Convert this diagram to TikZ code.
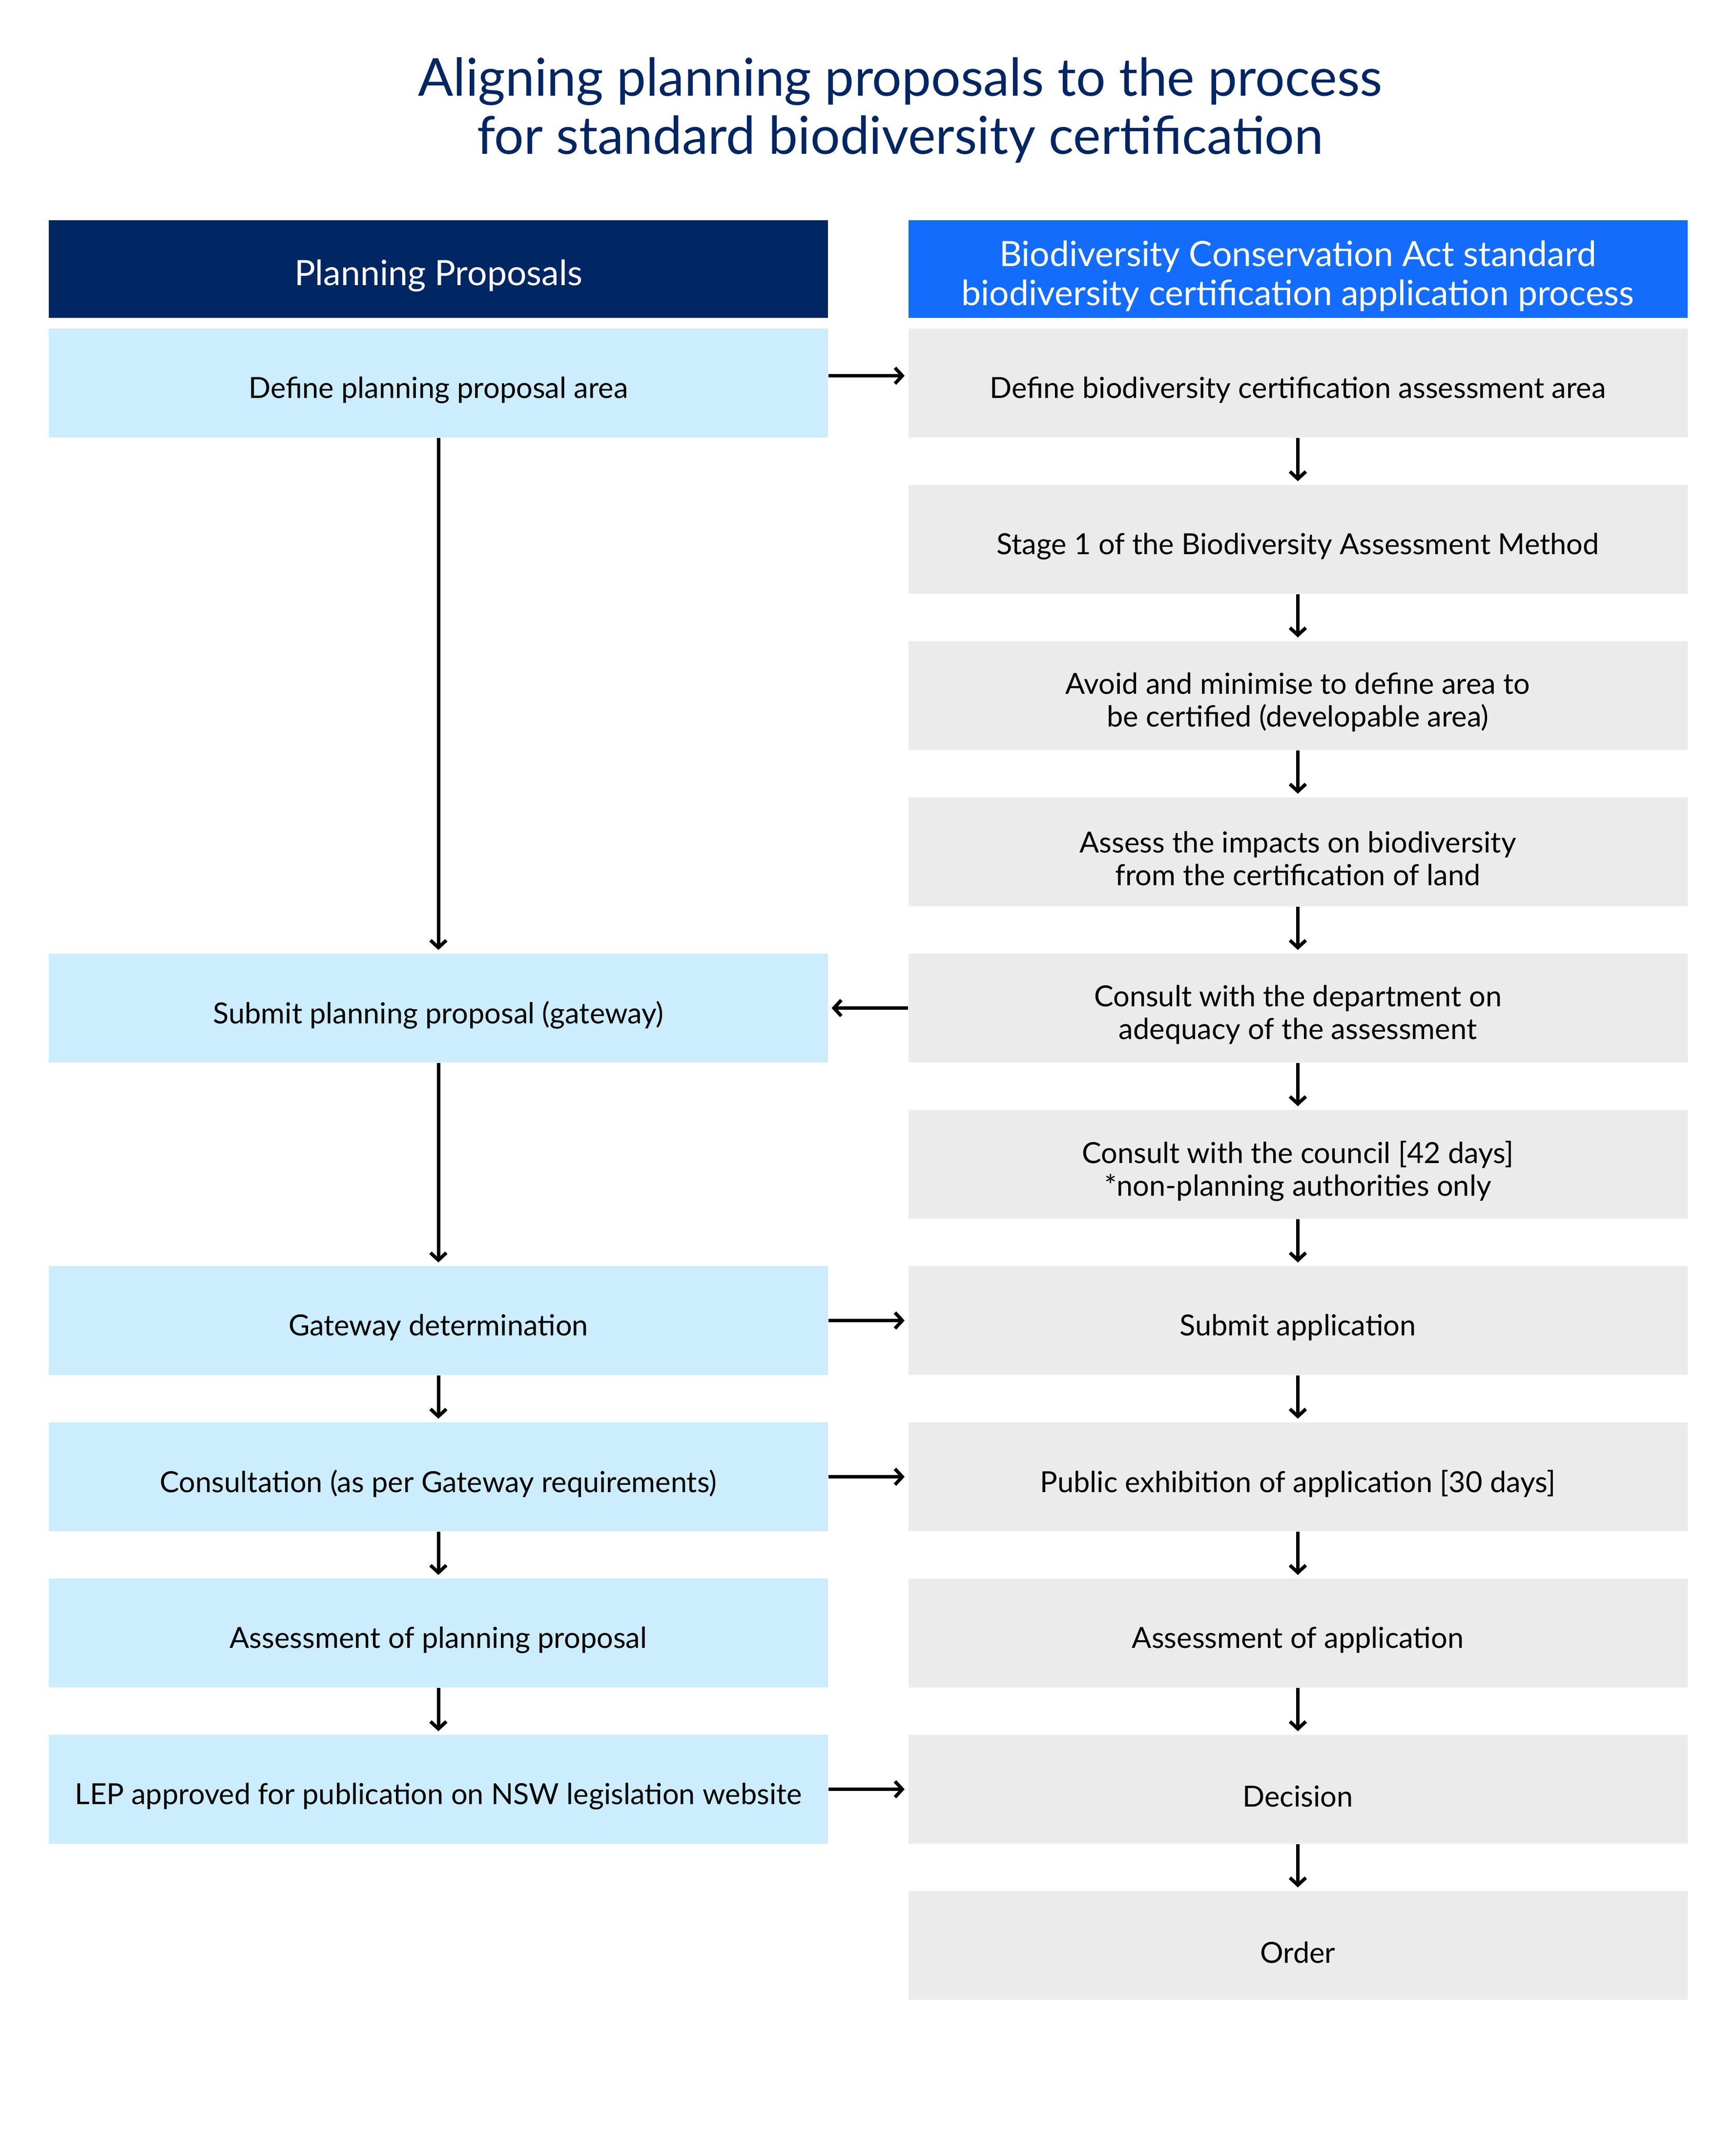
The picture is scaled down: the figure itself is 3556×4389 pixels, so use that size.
\documentclass[tikz,border=0pt]{standalone}
\usepackage{fontspec}
\setmainfont{Lato}
\usetikzlibrary{arrows.meta}
\definecolor{navy}{HTML}{002664}
\definecolor{nswblue}{HTML}{146CFD}
\definecolor{lblue}{HTML}{CBEDFD}
\definecolor{lgrey}{HTML}{EBEBEB}
\begin{document}
\begin{tikzpicture}[x=0.2pt,y=-0.2pt,
  box/.style={minimum width=319.2pt, minimum height=44.6pt, inner sep=0pt},
  lbox/.style={box, fill=lblue},
  rbox/.style={box, fill=lgrey},
  txt/.style={inner sep=0pt, align=center, font=\fontsize{11.9}{13.4}\selectfont, text=black},
  hdr/.style={minimum width=319.2pt, minimum height=40pt, inner sep=0pt},
  htxt/.style={inner sep=0pt, align=center, font=\fontsize{14.3}{16}\selectfont, text=white},
  ttl/.style={anchor=base, text=navy, font=\fontsize{21.4}{24}\selectfont},
  arr/.style={-{Straight Barb[length=3pt,width=6.5pt]}, line width=1.4pt, shorten >=1.3pt}]
\useasboundingbox (0,0) rectangle (3556,4389);
% title
\node[ttl] (t1) at (1844,196) {Aligning planning proposals to the process};
\node[ttl] (t2) at (1844,315) {for standard biodiversity certification};
% headers
\node[hdr, fill=navy] (hl) at (898,551) {};
\node[htxt] (hlt) at ([yshift=-2.8pt]hl.center) {Planning Proposals};
\node[hdr, fill=nswblue] (hr) at (2658.5,551) {};
\node[htxt] (hrt) at ([yshift=-2.8pt]hr.center) {Biodiversity Conservation Act standard\\biodiversity certification application process};
% left column
\node[lbox] (L1) at (898,784.5) {};
\node[lbox] (L5) at (898,2064.5) {};
\node[lbox] (L7) at (898,2704.5) {};
\node[lbox] (L8) at (898,3024.5) {};
\node[lbox] (L9) at (898,3344.5) {};
\node[lbox] (L10) at (898,3664.5) {};
\node[txt] (L1t) at ([yshift=-2.8pt]L1.center) {Define planning proposal area};
\node[txt] (L5t) at ([yshift=-2.8pt]L5.center) {Submit planning proposal (gateway)};
\node[txt] (L7t) at ([yshift=-2.8pt]L7.center) {Gateway determination};
\node[txt] (L8t) at ([yshift=-2.8pt]L8.center) {Consultation (as per Gateway requirements)};
\node[txt] (L9t) at ([yshift=-2.8pt]L9.center) {Assessment of planning proposal};
\node[txt] (L10t) at ([yshift=-2.8pt]L10.center) {LEP approved for publication on NSW legislation website};
% right column
\node[rbox] (R1) at (2658.5,784.5) {};
\node[rbox] (R2) at (2658.5,1104.5) {};
\node[rbox] (R3) at (2658.5,1424.5) {};
\node[rbox] (R4) at (2658.5,1744.5) {};
\node[rbox] (R5) at (2658.5,2064.5) {};
\node[rbox] (R6) at (2658.5,2384.5) {};
\node[rbox] (R7) at (2658.5,2704.5) {};
\node[rbox] (R8) at (2658.5,3024.5) {};
\node[rbox] (R9) at (2658.5,3344.5) {};
\node[rbox] (R10) at (2658.5,3664.5) {};
\node[rbox] (R11) at (2658.5,3984.5) {};
\node[txt] (R1t) at ([yshift=-2.8pt]R1.center) {Define biodiversity certification assessment area};
\node[txt] (R2t) at ([yshift=-2.8pt]R2.center) {Stage 1 of the Biodiversity Assessment Method};
\node[txt] (R3t) at ([yshift=-2.8pt]R3.center) {Avoid and minimise to define area to\\be certified (developable area)};
\node[txt] (R4t) at ([yshift=-2.8pt]R4.center) {Assess the impacts on biodiversity\\from the certification of land};
\node[txt] (R5t) at ([yshift=-2.8pt]R5.center) {Consult with the department on\\adequacy of the assessment};
\node[txt] (R6t) at ([yshift=-2.8pt]R6.center) {Consult with the council [42 days]\\{}*non-planning authorities only};
\node[txt] (R7t) at ([yshift=-2.8pt]R7.center) {Submit application};
\node[txt] (R8t) at ([yshift=-2.8pt]R8.center) {Public exhibition of application [30 days]};
\node[txt] (R9t) at ([yshift=-2.8pt]R9.center) {Assessment of application};
\node[txt] (R10t) at ([yshift=-2.8pt]R10.center) {Decision};
\node[txt] (R11t) at ([yshift=-2.8pt]R11.center) {Order};
% left vertical arrows
\draw[arr] (L1) -- (L5);
\draw[arr] (L5) -- (L7);
\draw[arr] (L7) -- (L8);
\draw[arr] (L8) -- (L9);
\draw[arr] (L9) -- (L10);
% right vertical arrows
\draw[arr] (R1) -- (R2);
\draw[arr] (R2) -- (R3);
\draw[arr] (R3) -- (R4);
\draw[arr] (R4) -- (R5);
\draw[arr] (R5) -- (R6);
\draw[arr] (R6) -- (R7);
\draw[arr] (R7) -- (R8);
\draw[arr] (R8) -- (R9);
\draw[arr] (R9) -- (R10);
\draw[arr] (R10) -- (R11);
% horizontal arrows
\draw[arr] ([yshift=3pt]L1.east) -- ([yshift=3pt]R1.west);
\draw[arr] (R5) -- (L5);
\draw[arr] (L7) -- (R7);
\draw[arr] (L8) -- (R8);
\draw[arr] (L10) -- (R10);
\end{tikzpicture}
\end{document}
